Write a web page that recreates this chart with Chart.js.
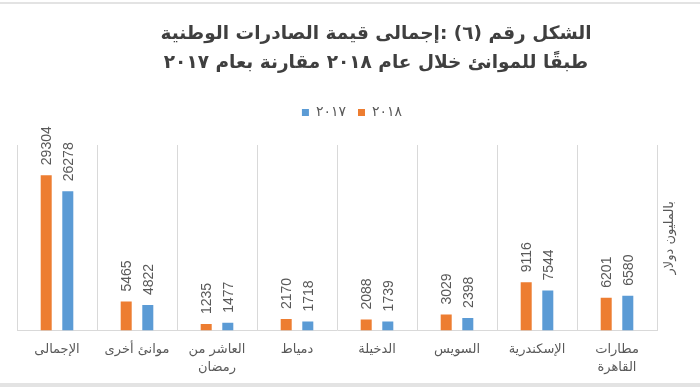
<!DOCTYPE html>
<html>
<head>
<meta charset="utf-8">
<script src="https://cdn.jsdelivr.net/npm/chart.js@4"></script>
<style>
  html, body { margin: 0; padding: 0; background: #fff; }
  #wrap { width: 700px; height: 387px; }
</style>
</head>
<body>
<div id="wrap"><canvas id="myChart"></canvas></div>
<script>
// categories, listed right to left as in the original
const ports = [
  ["مطارات", "القاهرة"],
  "الإسكندرية",
  "السويس",
  "الدخيلة",
  "دمياط",
  ["العاشر من", "رمضان"],
  "موانئ أخرى",
  "الإجمالى"
];
const values2018 = [6201, 9116, 3029, 2088, 2170, 1235, 5465, 29304];
const values2017 = [6580, 7544, 2398, 1739, 1718, 1477, 4822, 26278];
const titleLines = [
  "الشكل رقم (٦) :إجمالى قيمة الصادرات الوطنية",
  "طبقًا للموانئ خلال عام ٢٠١٨ مقارنة بعام ٢٠١٧"
];
const yTitle = "بالمليون دولار";

const grey = "#595959";

// page frame + white background
const framePlugin = {
  id: "frame",
  beforeDraw(chart) {
    const c = chart.ctx;
    c.save();
    c.fillStyle = "#fff";
    c.fillRect(0, 0, chart.width, chart.height);
    c.fillStyle = "#e3e3e3";
    c.fillRect(0, 2, chart.width, 2);
    c.fillRect(0, chart.height - 4, chart.width, 4);
    c.restore();
  }
};

// extra space below the legend, and shift title / legend to the right a bit
const legendGap = {
  id: "legendGap",
  beforeInit(chart) {
    const fit = chart.legend.fit;
    chart.legend.fit = function () {
      fit.bind(chart.legend)();
      this.height += 15.4;
    };
  },
  afterLayout(chart) {
    chart.titleBlock.left += 78;
    chart.legend.left += 30;
  }
};

// vertical value labels above bars + y title on the right
const labelsPlugin = {
  id: "barLabels",
  afterDatasetsDraw(chart) {
    const c = chart.ctx;
    c.save();
    c.fillStyle = grey;
    c.font = "14px 'Liberation Sans'";
    c.textAlign = "left";
    c.textBaseline = "middle";
    chart.data.datasets.forEach((ds, i) => {
      chart.getDatasetMeta(i).data.forEach((bar, j) => {
        c.save();
        c.translate(bar.x, bar.y - 10);
        c.rotate(-Math.PI / 2);
        c.fillText(String(ds.data[j]), 0, 1);
        c.restore();
      });
    });
    const area = chart.chartArea;
    c.font = "13px 'DejaVu Sans'";
    c.textAlign = "center";
    c.translate(area.right + 13, (area.top + area.bottom) / 2);
    c.rotate(-Math.PI / 2);
    c.fillText(yTitle, 0, 0);
    c.restore();
  }
};

new Chart(document.getElementById("myChart"), {
  type: "bar",
  data: {
    labels: ports,
    datasets: [
      {
        label: "٢٠١٨",
        data: values2018,
        backgroundColor: "#ED7D31",
        categoryPercentage: 0.54,
        barPercentage: 0.51
      },
      {
        label: "٢٠١٧",
        data: values2017,
        backgroundColor: "#5B9BD5",
        categoryPercentage: 0.54,
        barPercentage: 0.51
      }
    ]
  },
  options: {
    responsive: true,
    maintainAspectRatio: false,
    animation: false,
    layout: { padding: { left: 17, right: 43, top: 0, bottom: 0 } },
    scales: {
      x: {
        reverse: true,
        grid: { color: "#d9d9d9", drawTicks: false, offset: true },
        border: { color: "#d9d9d9" },
        ticks: {
          color: grey,
          font: { family: "'DejaVu Sans'", size: 13, lineHeight: 1.4 },
          padding: 10,
          maxRotation: 0,
          autoSkip: false
        }
      },
      y: {
        display: false,
        min: 0,
        max: 35000
      }
    },
    plugins: {
      title: {
        display: true,
        text: titleLines,
        color: "#3f3f3f",
        font: { family: "'DejaVu Sans'", size: 18.5, weight: "bold", lineHeight: 1.57 },
        padding: { top: 19.5, bottom: 16 }
      },
      legend: {
        reverse: true,
        labels: {
          color: grey,
          font: { family: "'DejaVu Sans'", size: 14 },
          boxWidth: 7,
          boxHeight: 7,
          padding: 12
        }
      },
      tooltip: { enabled: false }
    }
  },
  plugins: [framePlugin, legendGap, labelsPlugin]
});
</script>
</body>
</html>
